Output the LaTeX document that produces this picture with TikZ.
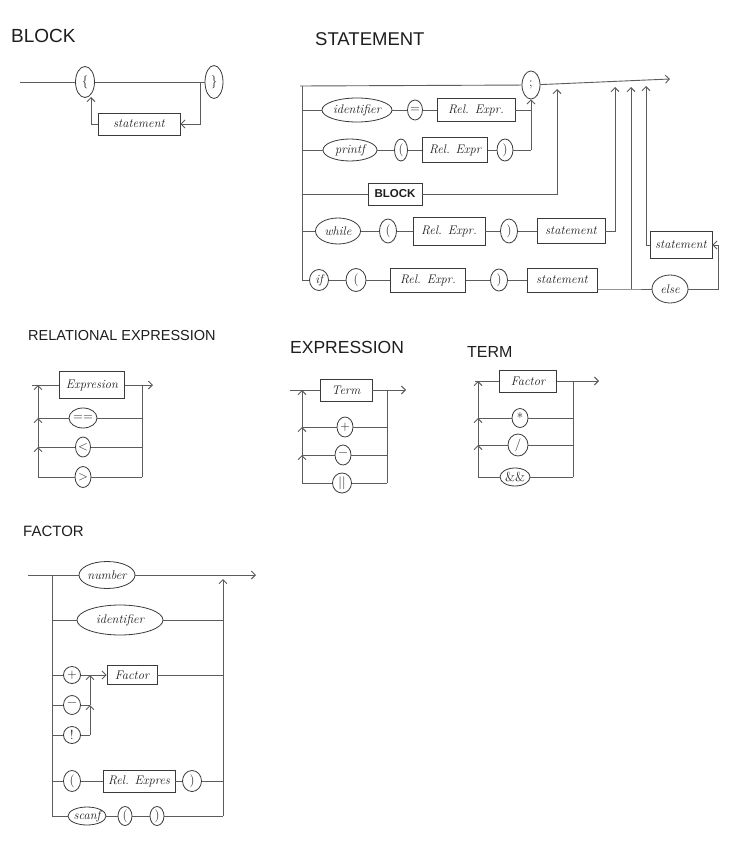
\documentclass[tikz,border=0pt]{standalone}
\usepackage{fontspec}
\setsansfont{Liberation Sans}
\usetikzlibrary{shapes.geometric,arrows.meta,calc}

\definecolor{ink}{HTML}{1E1E1E}
\definecolor{pencil}{HTML}{5C5C5C}
\definecolor{boxline}{HTML}{3A3A3A}

% label and heading fonts
\newcommand\lblfont{\fontsize{12.5}{14}\selectfont\itshape}
\newcommand\opfont{\fontsize{13}{14}\selectfont}
\newcommand\headfont[1]{\sffamily\fontsize{#1}{#1}\selectfont}

\tikzset{
  wire/.style={draw=pencil, line width=0.9pt},
  tip/.style={-{Straight Barb[length=4pt,width=8pt]}},
  tok/.style={ellipse, draw=boxline, line width=0.8pt, inner sep=0pt, font=\lblfont, text=ink},
  op/.style={tok, font=\opfont},
  nt/.style={rectangle, draw=boxline, line width=0.8pt, inner sep=1pt, font=\lblfont, text=ink},
  heading/.style={anchor=west, text=ink, inner sep=0pt},
}

\begin{document}
\begin{tikzpicture}[x=1pt,y=-1pt]
\fill[white] (0,0) rectangle (731,848);
\useasboundingbox (0,0) rectangle (731,848);

% ---------------- BLOCK ----------------
\node[heading, font=\headfont{19}] (hBlock) at (11,36) {BLOCK};
\coordinate (bIn) at (20,82);
\node[op, minimum width=19pt, minimum height=31pt] (lbr) at (85,82) {\{};
\node[op, minimum width=18pt, minimum height=33pt] (rbr) at (214,82) {\}};
\node[nt, minimum width=82pt, minimum height=22pt] (bStmt) at (139,124) {statement};
\coordinate (bDown) at (200,82);
\coordinate (bUp) at (91,97);
\draw[wire] (bIn) -- (lbr);
\draw[wire] (lbr) -- (rbr);
\draw[wire,tip] (bDown) |- (bStmt.east);
\draw[wire,tip] (bStmt.west) -| (bUp);

% ---------------- STATEMENT ----------------
\node[heading, font=\headfont{18.5}] (hStmt) at (315,39) {STATEMENT};
\coordinate (sIn) at (300,86);
\node[op, minimum width=18pt, minimum height=28pt] (semi) at (531,85) {;};
\coordinate (sOut) at (670,79);
\draw[wire] (sIn) -- (semi);
\draw[wire,tip] (semi) -- (sOut);
\coordinate (sTop) at (302,86);
\coordinate (sBot) at (302,280);
\draw[wire] (sTop) -- (sBot);

% identifier = Rel. Expr.
\node[tok, minimum width=70pt, minimum height=24pt] (sId) at (357,110) {identifier};
\node[op, minimum width=15pt, minimum height=20pt] (sEq) at (415,110) {=};
\node[nt, minimum width=78pt, minimum height=23pt] (sRe1) at (476,110) {Rel. Expr.};
\coordinate (sJ1) at (531,110);
\draw[wire] (sTop|-sId) -- (sId) -- (sEq) -- (sRe1) -- (sJ1);

% printf ( Rel. Expr )
\node[tok, minimum width=54pt, minimum height=22pt] (sPr) at (350,150) {printf};
\node[op, minimum width=13pt, minimum height=22pt] (sPo) at (401,150) {(};
\node[nt, minimum width=65pt, minimum height=25pt] (sRe2) at (455,150) {Rel. Expr};
\node[op, minimum width=16pt, minimum height=22pt] (sPc) at (505,150) {)};
\coordinate (sJ2) at (531,150);
\draw[wire] (sTop|-sPr) -- (sPr) -- (sPo) -- (sRe2) -- (sPc) -- (sJ2);
\draw[wire,tip] (sJ2) -- (semi.south);

% BLOCK
\node[nt, minimum width=54pt, minimum height=22pt, font=\sffamily\bfseries\fontsize{11.5}{13}\selectfont] (sBlk) at (395,194) {BLOCK};
\coordinate (sUp1) at (557,89);
\draw[wire] (sTop|-sBlk) -- (sBlk);
\draw[wire,tip] (sBlk) -| (sUp1);

% while ( Rel. Expr. ) statement
\node[tok, minimum width=45pt, minimum height=26pt] (sWh) at (338,231) {while};
\node[op, minimum width=17pt, minimum height=24pt] (sWo) at (388,231) {(};
\node[nt, minimum width=72pt, minimum height=28pt] (sRe3) at (449,231) {Rel. Expr.};
\node[op, minimum width=17pt, minimum height=24pt] (sWc) at (509,231) {)};
\node[nt, minimum width=68pt, minimum height=25pt] (sSt1) at (571,231) {statement};
\coordinate (sUp2) at (615,87);
\draw[wire] (sTop|-sWh) -- (sWh) -- (sWo) -- (sRe3) -- (sWc) -- (sSt1);
\draw[wire,tip] (sSt1) -| (sUp2);

% if ( Rel. Expr. ) statement [else statement]
\node[tok, minimum width=19pt, minimum height=21pt] (sIf) at (319,280) {if};
\node[op, minimum width=20pt, minimum height=23pt] (sIo) at (356,280) {(};
\node[nt, minimum width=75pt, minimum height=24pt] (sRe4) at (428,280) {Rel. Expr.};
\node[op, minimum width=17pt, minimum height=22pt] (sIc) at (499,280) {)};
\node[nt, minimum width=70pt, minimum height=24pt] (sSt2) at (562,280) {statement};
\draw[wire] (sBot) -- (sIf) -- (sIo) -- (sRe4) -- (sIc) -- (sSt2);
\node[tok, minimum width=36pt, minimum height=28pt] (sElse) at (670,289) {else};
\node[nt, minimum width=62pt, minimum height=27pt] (sSt3) at (681,245) {statement};
\coordinate (sIfJ) at (631,289);
\coordinate (sUp3) at (631,87);
\coordinate (sER) at (718,289);
\coordinate (sUp4) at (646,86);
\draw[wire] ([yshift=-9pt]sSt2.east) -- (sIfJ) -- (sElse);
\draw[wire,tip] (sIfJ) -- (sUp3);
\draw[wire,tip] (sElse) -- (sER) |- (sSt3);
\draw[wire,tip] (sSt3) -| (sUp4);

% ---------------- RELATIONAL EXPRESSION ----------------
\node[heading, font=\headfont{14.5}] (hRel) at (28,336) {RELATIONAL EXPRESSION};
\coordinate (rIn) at (32,385);
\node[nt, minimum width=65pt, minimum height=27pt] (rExp) at (92,385) {Expresion};
\coordinate (rOut) at (153,385);
\coordinate (rL) at (38,385);
\coordinate (rR) at (142,385);
\draw[wire] (rIn) -- (rExp);
\draw[wire,tip] (rExp) -- (rOut);
\node[op, minimum width=23pt, minimum height=20pt] (rEq) at (83,418) {==};
\node[op, minimum width=15pt, minimum height=20pt] (rLt) at (83,447) {<};
\node[op, minimum width=16pt, minimum height=21pt] (rGt) at (83,477) {>};
\draw[wire] (rR) -- (rR|-rGt);
\draw[wire] (rR|-rEq) -- (rEq) -- (rL|-rEq);
\draw[wire] (rR|-rLt) -- (rLt) -- (rL|-rLt);
\draw[wire] (rR|-rGt) -- (rGt) -- (rL|-rGt);
\draw[wire,tip] (rL|-rGt) -- (rL|-rLt);
\draw[wire,tip] (rL|-rLt) -- (rL|-rEq);
\draw[wire,tip] (rL|-rEq) -- (rL);

% ---------------- EXPRESSION ----------------
\node[heading, font=\headfont{17.5}] (hExpr) at (290,347) {EXPRESSION};
\coordinate (eIn) at (290,390);
\node[nt, minimum width=52pt, minimum height=22pt] (eTerm) at (346,390) {Term};
\coordinate (eOut) at (406,390);
\coordinate (eL) at (302,390);
\coordinate (eR) at (387,390);
\draw[wire] (eIn) -- (eTerm);
\draw[wire,tip] (eTerm) -- (eOut);
\node[op, minimum width=16pt, minimum height=20pt] (ePl) at (345,427) {+};
\node[op, minimum width=16pt, minimum height=20pt] (eMi) at (343,455) {−};
\node[op, minimum width=19pt, minimum height=20pt] (eOr) at (342,483) {||};
\draw[wire] (eR) -- (eR|-eOr);
\draw[wire] (eR|-ePl) -- (ePl) -- (eL|-ePl);
\draw[wire] (eR|-eMi) -- (eMi) -- (eL|-eMi);
\draw[wire] (eR|-eOr) -- (eOr) -- (eL|-eOr);
\draw[wire,tip] (eL|-eOr) -- (eL|-eMi);
\draw[wire,tip] (eL|-eMi) -- (eL|-ePl);
\draw[wire,tip] (eL|-ePl) -- (eL);

% ---------------- TERM ----------------
\node[heading, font=\headfont{16}] (hTerm) at (467,352) {TERM};
\coordinate (tIn) at (475,381);
\node[nt, minimum width=57pt, minimum height=22pt] (tFac) at (528,381) {Factor};
\coordinate (tOut) at (599,381);
\coordinate (tL) at (478,381);
\coordinate (tR) at (573,381);
\draw[wire] (tIn) -- (tFac);
\draw[wire,tip] (tFac) -- (tOut);
\node[op, minimum width=16pt, minimum height=19pt] (tMul) at (520,418) {*};
\node[op, minimum width=20pt, minimum height=22pt] (tDiv) at (518,445) {/};
\node[op, minimum width=30pt, minimum height=18pt] (tAnd) at (515,477) {\&\&};
\draw[wire] (tR) -- (tR|-tAnd);
\draw[wire] (tR|-tMul) -- (tMul) -- (tL|-tMul);
\draw[wire] (tR|-tDiv) -- (tDiv) -- (tL|-tDiv);
\draw[wire] (tR|-tAnd) -- (tAnd) -- (tL|-tAnd);
\draw[wire,tip] (tL|-tAnd) -- (tL|-tDiv);
\draw[wire,tip] (tL|-tDiv) -- (tL|-tMul);
\draw[wire,tip] (tL|-tMul) -- (tL);

% ---------------- FACTOR ----------------
\node[heading, font=\headfont{15}] (hFac) at (23,531) {FACTOR};
\coordinate (fIn) at (28,575);
\node[tok, minimum width=56pt, minimum height=27pt] (fNum) at (107,575) {number};
\coordinate (fOut) at (256,575);
\coordinate (fL) at (52,575);
\coordinate (fR) at (223,575);
\draw[wire] (fIn) -- (fNum);
\draw[wire,tip] (fNum) -- (fOut);

% identifier
\node[tok, minimum width=86pt, minimum height=30pt] (fId) at (120,620) {identifier};
\draw[wire] (fL|-fId) -- (fId) -- (fR|-fId);

% unary + - ! Factor
\node[op, minimum width=17pt, minimum height=17pt] (fPl) at (72,675) {+};
\node[nt, minimum width=50pt, minimum height=19pt] (fFac) at (132,675) {Factor};
\node[op, minimum width=17pt, minimum height=19pt] (fMi) at (72,705) {−};
\node[op, minimum width=17pt, minimum height=17pt] (fNot) at (72,735) {!};
\coordinate (fI) at (90,675);
\draw[wire] (fL|-fPl) -- (fPl);
\draw[wire,tip] (fPl) -- (fFac);
\draw[wire] (fFac) -- (fR|-fFac);
\draw[wire] (fL|-fMi) -- (fMi) -- (fI|-fMi);
\draw[wire] (fL|-fNot) -- (fNot) -- (fI|-fNot);
\draw[wire,tip] (fI|-fNot) -- (fI|-fMi);
\draw[wire,tip] (fI|-fMi) -- (fI);

% ( Rel. Expres )
\node[op, minimum width=17pt, minimum height=21pt] (fPo) at (72,781) {(};
\node[nt, minimum width=72pt, minimum height=22pt] (fRe) at (139,781) {Rel. Expres};
\node[op, minimum width=19pt, minimum height=21pt] (fPc) at (192,781) {)};
\draw[wire] (fL|-fPo) -- (fPo) -- (fRe) -- (fPc) -- (fR|-fPc);

% scanf ( )
\node[tok, minimum width=36pt, minimum height=18pt] (fSc) at (87,816) {scanf};
\node[op, minimum width=14pt, minimum height=19pt] (fSo) at (125,816) {(};
\node[op, minimum width=14pt, minimum height=19pt] (fScl) at (157,816) {)};
\draw[wire] (fL|-fSc) -- (fSc) -- (fSo) -- (fScl) -- (fR|-fScl);

% side rails
\draw[wire] (fL) -- (fL|-fSc);
\draw[wire,tip] (fR|-fScl) -- ([yshift=-4pt]fR);
\end{tikzpicture}
\end{document}
